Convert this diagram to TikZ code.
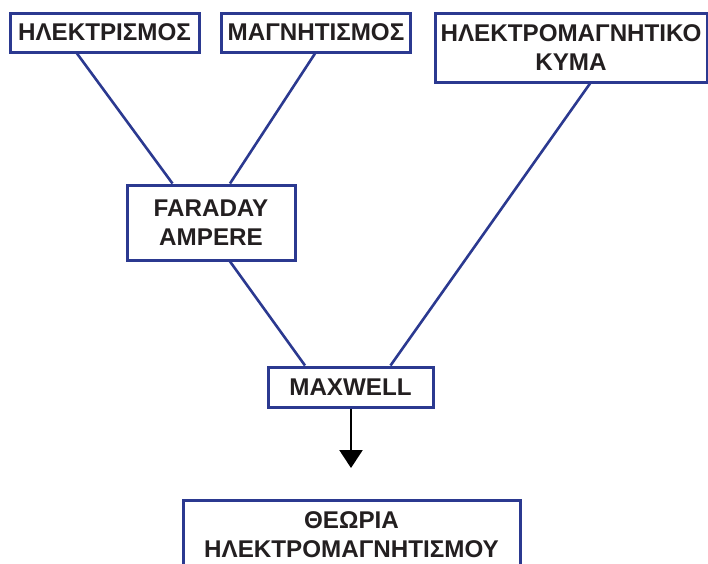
\documentclass[tikz,border=0pt]{standalone}
\usepackage{fontspec}
\setmainfont{Liberation Sans}
\usetikzlibrary{arrows.meta}
\definecolor{boxblue}{HTML}{2B3990}
\definecolor{ink}{HTML}{231F20}
\tikzset{
  box/.style={draw=boxblue, line width=3pt, fill=white, inner sep=0pt,
    align=center, text=ink, font=\fontsize{24.2}{28.8}\selectfont\bfseries},
  conn/.style={draw=boxblue, line width=2.6pt},
  arr/.style={draw=black, line width=2.4pt, -{Triangle[width=23pt,length=18pt]}}
}
\begin{document}
\begin{tikzpicture}[x=1pt,y=-1pt]
\useasboundingbox (0,0) rectangle (708,563);
\clip (0,0) rectangle (708,563);
\node[box, minimum width=189pt, minimum height=39pt] (el) at (104.5,32.5) {ΗΛΕΚΤΡΙΣΜΟΣ};
\node[box, minimum width=189pt, minimum height=39pt] (mg) at (316,32.5) {ΜΑΓΝΗΤΙΣΜΟΣ};
\node[box, minimum width=272pt, minimum height=69pt] (em) at (571,47.5) {ΗΛΕΚΤΡΟΜΑΓΝΗΤΙΚΟ\\ΚΥΜΑ};
\node[box, minimum width=168pt, minimum height=75pt] (fa) at (211,222.5) {FARADAY\\AMPERE};
\node[box, minimum width=165pt, minimum height=40pt] (mx) at (350.5,387) {MAXWELL};
\node[box, minimum width=337pt, minimum height=70pt] (th) at (351.5,535) {ΘΕΩΡΙΑ\\ΗΛΕΚΤΡΟΜΑΓΝΗΤΙΣΜΟΥ};
\coordinate (tip) at (351,468);
\draw[conn] ([xshift=-27.5pt]el.south) -- ([xshift=-38.5pt]fa.north);
\draw[conn] ([xshift=-1pt]mg.south) -- ([xshift=19pt]fa.north);
\draw[conn] ([xshift=19pt]fa.south) -- ([xshift=-45.5pt]mx.north);
\draw[conn] ([xshift=19pt]em.south) -- ([xshift=40pt]mx.north);
\draw[arr] ([xshift=0.5pt]mx.south) -- (tip);
\end{tikzpicture}
\end{document}
